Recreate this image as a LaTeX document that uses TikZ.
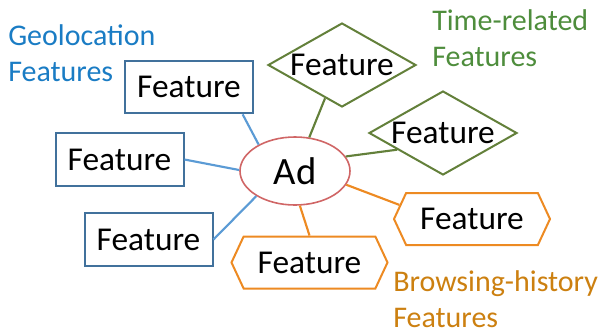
\documentclass[tikz,border=0pt]{standalone}
\usepackage{fontspec}
\setmainfont{Carlito}
\usetikzlibrary{shapes.geometric,shapes.symbols}
\definecolor{boxblue}{HTML}{41719C}
\definecolor{lineblue}{HTML}{5B9BD5}
\definecolor{txtblue}{HTML}{1A7CC4}
\definecolor{olive}{HTML}{63803A}
\definecolor{txtgreen}{HTML}{4E8D3C}
\definecolor{hexorange}{HTML}{ED8A22}
\definecolor{txtorange}{HTML}{CC8010}
\definecolor{adred}{HTML}{D06666}
\tikzset{
  feat/.style={font=\fontsize{25}{29}\selectfont, fill=white, inner sep=0pt},
  geobox/.style={feat, draw=boxblue, line width=1.5pt, rectangle, minimum width=96pt, minimum height=39.5pt},
  timebox/.style={feat, draw=olive, line width=1.5pt, diamond, aspect=1.76, minimum width=111pt, minimum height=63pt},
  browsebox/.style={feat, draw=hexorange, line width=1.5pt, signal, signal to=west and east, signal pointer angle=130, minimum width=117pt, minimum height=39pt},
  adnode/.style={draw=adred, line width=1.2pt, ellipse, fill=white, minimum width=82.5pt, minimum height=51pt, inner sep=0pt, font=\fontsize{29}{32}\selectfont},
  geoline/.style={draw=lineblue, line width=1.6pt},
  timeline/.style={draw=olive, line width=1.6pt},
  browseline/.style={draw=hexorange, line width=1.6pt},
  grouplabel/.style={font=\fontsize{22.5}{27}\selectfont, align=left, inner sep=0pt, anchor=base west}
}
\begin{document}
\begin{tikzpicture}[x=0.75pt,y=-0.75pt]
\useasboundingbox (0,0) rectangle (608,333);
\node[adnode] (ad) at (295,171) {Ad};
\node[geobox] (g1) at (189,87) {Feature};
\node[geobox] (g2) at (119.5,159.5) {Feature};
\node[geobox] (g3) at (148.5,239.5) {Feature};
\node[timebox] (t1) at (342,65) {Feature};
\node[timebox] (t2) at (443,133) {Feature};
\node[browsebox] (b1) at (472,219) {Feature};
\node[browsebox] (b2) at (309.5,262.5) {Feature};
\path[geoline] (g1.-27) -- (ad.144);
\path[geoline] (g2.east) -- (ad.179);
\path[geoline] (g3.east) -- (ad.213);
\path[timeline] (t1.243) -- (ad.67);
\path[timeline] (t2.200) -- (ad.16);
\path[browseline] (b1.169) -- (ad.-15);
\path[browseline] (b2.north) -- (ad.278);
\node[grouplabel, text=txtblue] (lg) at (8,81) {Geolocation\\Features};
\node[grouplabel, text=txtgreen] (lt) at (432,66) {Time-related\\Features};
\node[grouplabel, text=txtorange] (lb) at (393,327) {Browsing-history\\Features};
\end{tikzpicture}
\end{document}
